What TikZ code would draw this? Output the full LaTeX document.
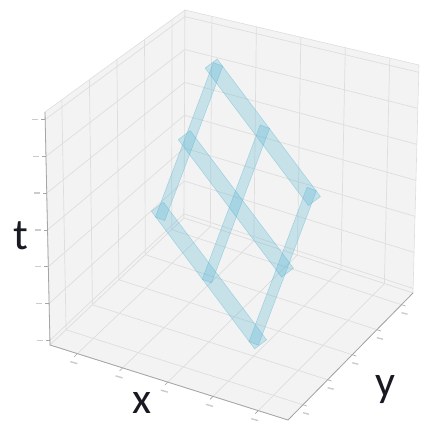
\documentclass[tikz,border=0pt]{standalone}
\usepackage{fontspec}
\setmainfont{Carlito}
\usetikzlibrary{calc}

\definecolor{panegray}{RGB}{243,243,243}
\definecolor{gridgray}{RGB}{222,222,222}
\definecolor{axisgray}{RGB}{165,165,165}
\definecolor{barblue}{RGB}{85,180,210}
\definecolor{labelink}{RGB}{25,25,35}

\begin{document}
\begin{tikzpicture}[x=1pt, y=-1pt,
    pane/.style={fill=panegray, draw=gridgray, line width=0.6pt},
    gridline/.style={draw=gridgray, line width=0.7pt},
    axisline/.style={draw=axisgray, line width=0.8pt},
    tickmark/.style={draw=axisgray, line width=0.6pt},
    tickblob/.style={draw=gray!40, line width=1.4pt},
    widebar/.style={draw=barblue, draw opacity=0.45, fill=barblue, fill opacity=0.28, line width=0.5pt, inner sep=0pt, minimum width=172pt, minimum height=15pt, rotate=-53.1},
    narrowbar/.style={draw=barblue, draw opacity=0.45, fill=barblue, fill opacity=0.28, line width=0.5pt, inner sep=0pt, minimum width=165pt, minimum height=10pt, rotate=-110.6},
    axislabel/.style={font=\fontsize{44}{44}\selectfont, text=labelink, inner sep=0pt, anchor=base}
]
    \useasboundingbox (0,0) rectangle (421,425);

    % Box corners
    \coordinate (L) at (50,345);
    \coordinate (F) at (288,420);
    \coordinate (R) at (413,293);
    \coordinate (B) at (184,218);
    \coordinate (Lt) at (45,112);
    \coordinate (Bt) at (185,10);
    \coordinate (Rt) at (419,65);

    % Panes
    \filldraw[pane] (L) -- (B) -- (Bt) -- (Lt) -- cycle;
    \filldraw[pane] (B) -- (R) -- (Rt) -- (Bt) -- cycle;
    \filldraw[pane] (L) -- (F) -- (R) -- (B) -- cycle;

    % Grid
    \foreach \u in {0.115,0.305,0.495,0.685,0.875}
        \draw[gridline] ($(L)!\u!(F)$) -- ($(B)!\u!(R)$) -- ($(Bt)!\u!(Rt)$);
    \foreach \v in {0.12,0.317,0.514,0.711,0.908}
        \draw[gridline] ($(F)!\v!(R)$) -- ($(L)!\v!(B)$) -- ($(Lt)!\v!(Bt)$);
    \foreach \w in {0.02,0.178,0.336,0.494,0.652,0.81,0.968}
        \draw[gridline] ($(L)!\w!(Lt)$) -- ($(B)!\w!(Bt)$) -- ($(R)!\w!(Rt)$);

    % Axes and ticks
    \draw[axisline] (Lt) -- (L) -- (F) -- (R);
    \foreach \w in {0.02,0.178,0.336,0.494,0.652,0.81,0.968} {
        \draw[tickmark] ($(L)!\w!(Lt)$) -- ++(-4,0);
        \draw[tickblob] ($(L)!\w!(Lt)$) ++(-13,0) -- ++(6,0);
    }
    \foreach \u in {0.115,0.305,0.495,0.685,0.875} {
        \draw[tickmark] ($(L)!\u!(F)$) -- ++(-3,3);
        \draw[tickblob] ($(L)!\u!(F)$) ++(-7,8) -- ++(7,2);
    }
    \foreach \v in {0.12,0.317,0.514,0.711,0.908} {
        \draw[tickmark] ($(F)!\v!(R)$) -- ++(4,1.3);
        \draw[tickblob] ($(F)!\v!(R)$) ++(0,8) -- ++(6,1.5);
    }

    % Lattice of bars
    \foreach \i in {0,1,2}
        \foreach \j in {0,1,2}
            \coordinate (n\i\j) at ($(216,70) + \j*(46.8,62.3) + \i*(-26.9,71.6)$);
    \foreach \i in {0,1,2}
        \node[widebar] (wide\i) at (n\i1) {};
    \foreach \j in {0,1,2}
        \node[narrowbar] (narrow\j) at (n1\j) {};

    % Axis labels
    \node[axislabel] (tlabel) at (21,249) {t};
    \node[axislabel] (xlabel) at (142,413) {x};
    \node[axislabel] (ylabel) at (385,396) {y};
\end{tikzpicture}
\end{document}
